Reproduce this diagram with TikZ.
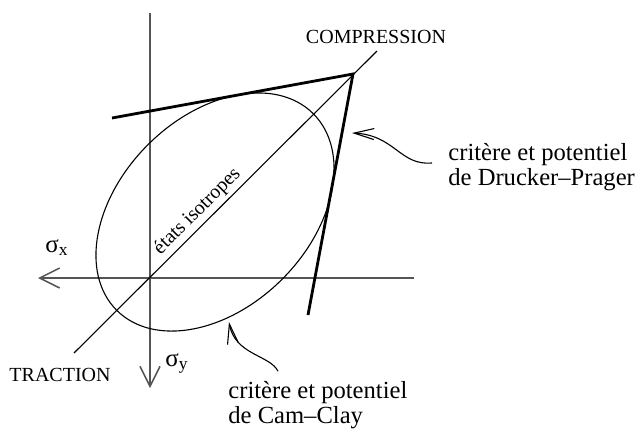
\documentclass[tikz,border=0pt]{standalone}
\usepackage{fontspec}
\setmainfont{Liberation Serif}
\usetikzlibrary{arrows.meta}
\definecolor{AxisGray}{HTML}{555555}

\begin{document}
\begin{tikzpicture}[x=.5pt,y=-.5pt,
    axis/.style={AxisGray,line width=.75pt,-{Straight Barb[length=10pt,width=10pt]}},
    thinline/.style={line width=.55pt},
    cone/.style={line width=1.4pt},
    pointer/.style={line width=.55pt,-{Straight Barb[length=10pt,width=5.5pt]}},
    lbl/.style={font=\fontsize{12.3}{11}\selectfont,align=left,inner sep=0pt},
    caps/.style={font=\fontsize{10}{12}\selectfont,inner sep=0pt},
    sig/.style={font=\fontsize{12.5}{12}\selectfont,inner sep=0pt,anchor=base west}]
  \useasboundingbox (0,0) rectangle (642,430);
  \coordinate (xR) at (414,278);
  \coordinate (xL) at (38,278);
  \coordinate (yT) at (150,13);
  \coordinate (yB) at (150,388);
  \coordinate (trac) at (74,353);
  \coordinate (comp) at (377,51);
  \coordinate (apex) at (353,74);
  \coordinate (dpA) at (112,118);
  \coordinate (dpB) at (308,315);
  \coordinate (cc) at (215,212);
  \coordinate (dpTip) at (352,133);
  \coordinate (ccTip) at (229,322);

  \draw[axis] (xR) -- (xL);
  \draw[axis] (yT) -- (yB);
  \draw[thinline] (trac) -- (comp);
  \draw[thinline,rotate around={45:(cc)}] (cc) ellipse [x radius=69.5pt,y radius=47.5pt];
  \draw[cone] (dpA) -- (apex) -- (dpB);

  \node[caps,anchor=base] (compL) at (376,43) {COMPRESSION};
  \node[caps,anchor=base] (tracL) at (60,381) {TRACTION};
  \node[sig] (sx) at (45,252) {σ\textsubscript{x}};
  \node[sig] (sy) at (165,366) {σ\textsubscript{y}};
  \node[caps,rotate=45,anchor=south,inner sep=2pt] (iso) at (207,221) {états isotropes};
  \node[lbl,anchor=base west] (dpL) at (448,185) {critère et potentiel\\de Drucker--Prager};
  \node[lbl,anchor=base west] (ccL) at (228,423) {critère et potentiel\\de Cam--Clay};

  \draw[pointer] ([xshift=-8pt,yshift=2pt]dpL.west) .. controls (400,166) and (395,135) .. (dpTip);
  \draw[pointer] (ccL.north west) ++(50,-10) .. controls (270,355) and (235,355) .. (ccTip);
\end{tikzpicture}
\end{document}
